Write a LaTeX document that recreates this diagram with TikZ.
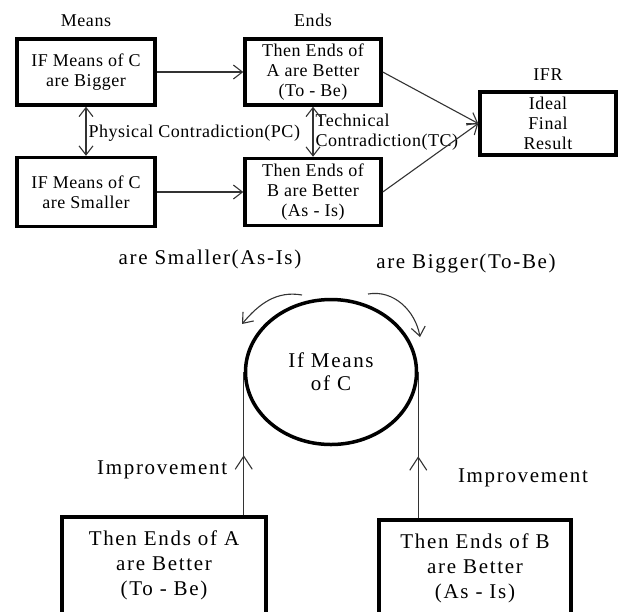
\documentclass[tikz,border=0pt]{standalone}
\usepackage{fontspec}
\setmainfont{Liberation Serif}
\newfontfamily\topfont[LetterSpace=3]{Liberation Serif}
\newfontfamily\lowfont[LetterSpace=8]{Liberation Serif}
\usetikzlibrary{positioning,shapes.geometric,arrows.meta}

\begin{document}
\begin{tikzpicture}[x=1pt, y=-1pt,
                    >={Straight Barb[length=9pt,width=14pt]},
                    line width=1.1pt,
                    ]
    \tikzstyle{box}=[draw=black, line width=3.5pt, align=center, inner sep=0pt]
    \tikzstyle{toptext}=[font=\topfont\fontsize{18}{20}\selectfont]
    \tikzstyle{lowtext}=[font=\lowfont\fontsize{21}{25}\selectfont]
    \tikzstyle{means}=[box, toptext, minimum width=138pt]
    \tikzstyle{ends}=[box, toptext, minimum width=136pt]
    \tikzstyle{result}=[box, lowtext];
    \tikzstyle{caption}=[toptext, inner sep=0pt];
    \tikzstyle{link}=[draw=black!80, ->];
    \tikzstyle{plain}=[draw=black!80];
    \tikzstyle{uplink}=[draw=black!80, -{Straight Barb[length=13pt,width=17pt]}];

    \useasboundingbox (0,0) rectangle (620,611);
    \clip (0,0) rectangle (620,611);

    % means and ends
    \node[means, minimum height=66pt] (bigger) at (86,72) {IF Means of C\\are Bigger};
    \node[means, minimum height=69pt] (smaller) at (86,192) {IF Means of C\\are Smaller};
    \node[ends, minimum height=66pt] (endsA) at (313,72) {Then Ends of\\A are Better\\(To - Be)};
    \node[ends, minimum height=67pt] (endsB) at (313,192) {Then Ends of\\B are Better\\(As - Is)};
    \node[ends, minimum height=63pt] (ifr) at (548,123.5) {Ideal\\Final\\Result};

    \node[caption, above=10pt of bigger] (meanshead) {Means};
    \node[caption, above=10pt of endsA] (endshead) {Ends};
    \node[caption, above=9pt of ifr] (ifrhead) {IFR};
    \node[caption, anchor=west] (pc) at (88,133) {Physical Contradiction(PC)};
    \node[caption, anchor=west, align=left] (tc) at (315,132) {Technical\\Contradiction(TC)};

    \path[link] (bigger) -- (endsA);
    \path[link] (smaller) -- (endsB);
    \path[link, <->] (bigger) -- (smaller);
    \path[link, <->] (endsA) -- (endsB);
    \path[link] (endsA.east) -- (ifr.west);
    \path[link] (endsB.east) -- (ifr.west);

    % circle of C
    \node[draw=black, line width=3.5pt, ellipse, minimum width=171pt, minimum height=145pt,
          align=center, inner sep=0pt, font=\lowfont\fontsize{21}{23}\selectfont] (core) at (331,372) {If Means\\of C};
    \node[lowtext] (smallhead) at (210,259) {are Smaller(As-Is)};
    \node[lowtext] (bighead) at (466,263) {are Bigger(To-Be)};
    \coordinate (smallfrom) at (302,295);
    \coordinate (smallto) at (242,324);
    \coordinate (bigfrom) at (368,294);
    \coordinate (bigto) at (420,337);
    \path[link] (smallfrom) to[out=170, in=50] (smallto);
    \path[link] (bigfrom) to[out=10, in=100] (bigto);

    \node[result, minimum width=204pt, minimum height=97pt] (resA) at (164,565.5) {Then Ends of A\\are Better\\(To - Be)};
    \node[result, minimum width=192pt, minimum height=96pt] (resB) at (475,568) {Then Ends of B\\are Better\\(As - Is)};
    \node[lowtext, anchor=east] (imprA) at (231,470) {Improvement};
    \node[lowtext] (imprB) at (523,478) {Improvement};

    \path[plain] (resA.north -| core.west) -- (core.west);
    \path[uplink] (resA.north -| core.west) -- ++(0,-60) coordinate (tipA);
    \path[plain] (resB.north -| core.east) -- (core.east);
    \path[uplink] (resB.north -| core.east) -- ++(0,-62) coordinate (tipB);
\end{tikzpicture}
\end{document}
